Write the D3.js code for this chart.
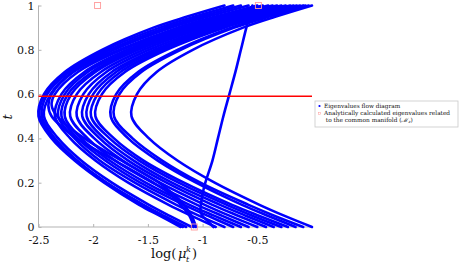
<!DOCTYPE html>
<html>
<head>
<meta charset="utf-8">
<script src="https://d3js.org/d3.v7.min.js"></script>
<style>
body { margin:0; background:#fff; }
text { font-family: "DejaVu Serif", "Liberation Serif", serif; }
</style>
</head>
<body>
<script>
// t samples shared by most eigenvalue curves
var flowT = [0, 0.05, 0.1, 0.2, 0.3, 0.4, 0.5, 0.6, 0.7, 0.8, 0.9, 0.95, 1];
// log(mu) of each eigenvalue at the flowT samples
var flowCurves = [
  [-1.20,-1.39,-1.58,-1.90,-2.17,-2.38,-2.50,-2.45,-2.26,-1.92,-1.45,-1.14,-0.80],
  [-1.15,-1.35,-1.54,-1.88,-2.15,-2.36,-2.49,-2.44,-2.24,-1.89,-1.39,-1.07,-0.72],
  [-1.18,-1.37,-1.55,-1.88,-2.15,-2.35,-2.47,-2.42,-2.22,-1.85,-1.34,-1.01,-0.65],
  [-1.10,-1.30,-1.49,-1.83,-2.11,-2.32,-2.45,-2.39,-2.19,-1.81,-1.29,-0.95,-0.58],
  [-0.88,-1.10,-1.31,-1.68,-1.98,-2.21,-2.35,-2.29,-2.08,-1.69,-1.14,-0.79,-0.40],
  [-0.80,-1.03,-1.24,-1.62,-1.94,-2.17,-2.32,-2.26,-2.05,-1.65,-1.10,-0.75,-0.36],
  [-0.72,-0.95,-1.17,-1.57,-1.89,-2.14,-2.29,-2.23,-2.01,-1.62,-1.07,-0.71,-0.32],
  [-0.65,-0.89,-1.12,-1.52,-1.85,-2.11,-2.26,-2.20,-1.98,-1.59,-1.03,-0.68,-0.28],
  [-0.58,-0.82,-1.05,-1.46,-1.80,-2.05,-2.21,-2.15,-1.93,-1.54,-0.99,-0.63,-0.24],
  [-0.50,-0.75,-0.98,-1.39,-1.73,-1.99,-2.15,-2.09,-1.88,-1.49,-0.94,-0.59,-0.20],
  [-0.42,-0.67,-0.91,-1.33,-1.68,-1.94,-2.10,-2.04,-1.83,-1.44,-0.90,-0.56,-0.17],
  [-0.35,-0.60,-0.84,-1.28,-1.63,-1.90,-2.06,-2.00,-1.79,-1.41,-0.87,-0.52,-0.14],
  [-0.28,-0.54,-0.78,-1.22,-1.58,-1.85,-2.02,-1.96,-1.75,-1.37,-0.84,-0.49,-0.11],
  [-0.22,-0.48,-0.73,-1.17,-1.54,-1.81,-1.98,-1.92,-1.71,-1.33,-0.80,-0.46,-0.08],
  [-0.15,-0.40,-0.64,-1.06,-1.41,-1.68,-1.84,-1.79,-1.59,-1.23,-0.74,-0.42,-0.06],
  [-0.08,-0.34,-0.58,-1.02,-1.37,-1.64,-1.81,-1.76,-1.56,-1.20,-0.71,-0.39,-0.03],
  [ 0.00,-0.25,-0.48,-0.89,-1.23,-1.49,-1.65,-1.60,-1.42,-1.09,-0.63,-0.33, 0.00]
];
// two eigenvalues whose lower branch drops vertically near log(mu) = -1.08
var bendT = [0, 0.05, 0.1, 0.15, 0.2, 0.3, 0.4, 0.5, 0.55, 0.6, 0.7, 0.8, 0.9, 0.95, 1];
var bendA = [-1.08,-1.12,-1.20,-1.30,-1.45,-1.80,-2.15,-2.38,-2.41,-2.38,-2.18,-1.76,-1.23,-0.88,-0.50];
var bendB = [-1.06,-1.10,-1.17,-1.27,-1.40,-1.74,-2.08,-2.33,-2.38,-2.35,-2.14,-1.74,-1.18,-0.84,-0.45];
// the nearly straight eigenvalue crossing the band
var crossT = [0, 0.03, 0.05, 0.07, 0.1, 0.15, 0.2, 0.3, 0.4, 0.5, 0.6, 0.7, 0.8, 0.9, 1];
var crossX = [-0.90,-0.96,-1.00,-1.02,-1.015,-1.00,-0.975,-0.91,-0.86,-0.81,-0.755,-0.70,-0.65,-0.60,-0.545];
// analytically calculated eigenvalues
var anaX = [-1.96, -0.49, -1.076];
var anaT = [1, 1, 0];
var redT = 0.59;

var xTicks = [-2.5, -2, -1.5, -1, -0.5];
var yTicks = [0, 0.2, 0.4, 0.6, 0.8, 1];

var width = 459, height = 265;
var svg = d3.select("body").append("svg")
    .attr("width", width)
    .attr("height", height);

var x = d3.scaleLinear().domain([-2.5, 0]).range([38.5, 312]);
var y = d3.scaleLinear().domain([0, 1]).range([227, 5.5]);

var series = flowCurves.map(function(c) {
  return c.map(function(v, i) { return [v, flowT[i]]; });
});
series.push(bendA.map(function(v, i) { return [v, bendT[i]]; }));
series.push(bendB.map(function(v, i) { return [v, bendT[i]]; }));
series.push(crossX.map(function(v, i) { return [v, crossT[i]]; }));

var line = d3.line()
    .x(function(d) { return x(d[0]); })
    .y(function(d) { return y(d[1]); })
    .curve(d3.curveCatmullRom.alpha(0.5));

// axes
var axisColor = "#b3b3b3";
var gx = svg.append("g").attr("transform", "translate(0," + y(0) + ")");
gx.call(d3.axisBottom(x).tickValues(xTicks).tickSize(-3).tickPadding(9)
    .tickFormat(function(d) { return d; }));
var gy = svg.append("g").attr("transform", "translate(" + x(-2.5) + ",0)");
gy.call(d3.axisLeft(y).tickValues(yTicks).tickSize(-3).tickPadding(4)
    .tickFormat(function(d) { return (d === 0 || d === 1) ? d : d.toFixed(1); }));
[gx, gy].forEach(function(g) {
  g.select(".domain").attr("stroke", axisColor).attr("stroke-width", 1);
  g.selectAll(".tick line").attr("stroke", axisColor);
  g.selectAll(".tick text")
    .attr("fill", "#111")
    .style("font-family", "'DejaVu Serif', serif")
    .style("font-size", "11px");
});
gx.select(".domain").attr("d", "M" + x(-2.5) + ",0H" + x(0));
gy.select(".domain").attr("d", "M0," + y(0) + "V" + y(1));

// eigenvalue flow
svg.append("g")
  .selectAll("path")
  .data(series)
  .enter().append("path")
    .attr("d", line)
    .attr("fill", "none")
    .attr("stroke", "#0000ff")
    .attr("stroke-width", 2.6)
    .attr("stroke-linecap", "round");

// red horizontal line
svg.append("line")
  .attr("x1", x(-2.5)).attr("x2", x(0))
  .attr("y1", y(redT)).attr("y2", y(redT))
  .attr("stroke", "#ff0000")
  .attr("stroke-width", 1.4);

// analytic eigenvalues
svg.append("g")
  .selectAll("rect")
  .data(anaX)
  .enter().append("rect")
    .attr("x", function(d) { return x(d) - 3; })
    .attr("y", function(d, i) { return y(anaT[i]) - 3; })
    .attr("width", 6).attr("height", 6)
    .attr("fill", "none")
    .attr("stroke", "#ff9a9a")
    .attr("stroke-width", 0.9);

// x label: log(mu_t^k)
var xlab = svg.append("g").attr("fill", "#111").style("font-size", "13px");
xlab.append("text").attr("x", 151).attr("y", 258).text("log(");
xlab.append("text").attr("x", 178).attr("y", 258).style("font-style", "italic").text("\u03bc");
xlab.append("text").attr("x", 186).attr("y", 252).style("font-size", "8px").style("font-style", "italic").text("k");
xlab.append("text").attr("x", 186).attr("y", 262).style("font-size", "8px").style("font-style", "italic").text("t");
xlab.append("text").attr("x", 192).attr("y", 258).text(")");

svg.append("text")
  .attr("transform", "translate(12,117) rotate(-90)")
  .attr("text-anchor", "middle")
  .style("font-size", "13px")
  .style("font-style", "italic")
  .attr("fill", "#111")
  .text("t");

// legend
var lg = svg.append("g").attr("transform", "translate(315,101)");
lg.append("rect")
  .attr("width", 143).attr("height", 26)
  .attr("fill", "#fff")
  .attr("stroke", "#c8c8c8")
  .attr("stroke-width", 0.8);
lg.append("circle").attr("cx", 4.5).attr("cy", 5).attr("r", 1.1).attr("fill", "#0000ff");
lg.append("rect").attr("x", 3.5).attr("y", 11.5).attr("width", 2.2).attr("height", 2.2)
  .attr("fill", "none").attr("stroke", "#ff9a9a").attr("stroke-width", 0.5);
var legendLines = ["Eigenvalues flow diagram", "Analytically calculated eigenvalues related", " to the common manifold ("];
lg.selectAll("text.lt")
  .data(legendLines)
  .enter().append("text")
    .attr("class", "lt")
    .attr("x", 9)
    .attr("y", function(d, i) { return 7 + i * 7; })
    .style("font-size", "5.8px")
    .attr("fill", "#111")
    .attr("xml:space", "preserve")
    .text(function(d) { return d; });
var last = lg.select("text.lt:last-of-type");
last.append("tspan").style("font-style", "italic").text("\u2133");
last.append("tspan").attr("dy", 1).style("font-size", "4px").style("font-style", "italic").text("z");
last.append("tspan").attr("dy", -1).text(")");
</script>
</body>
</html>
